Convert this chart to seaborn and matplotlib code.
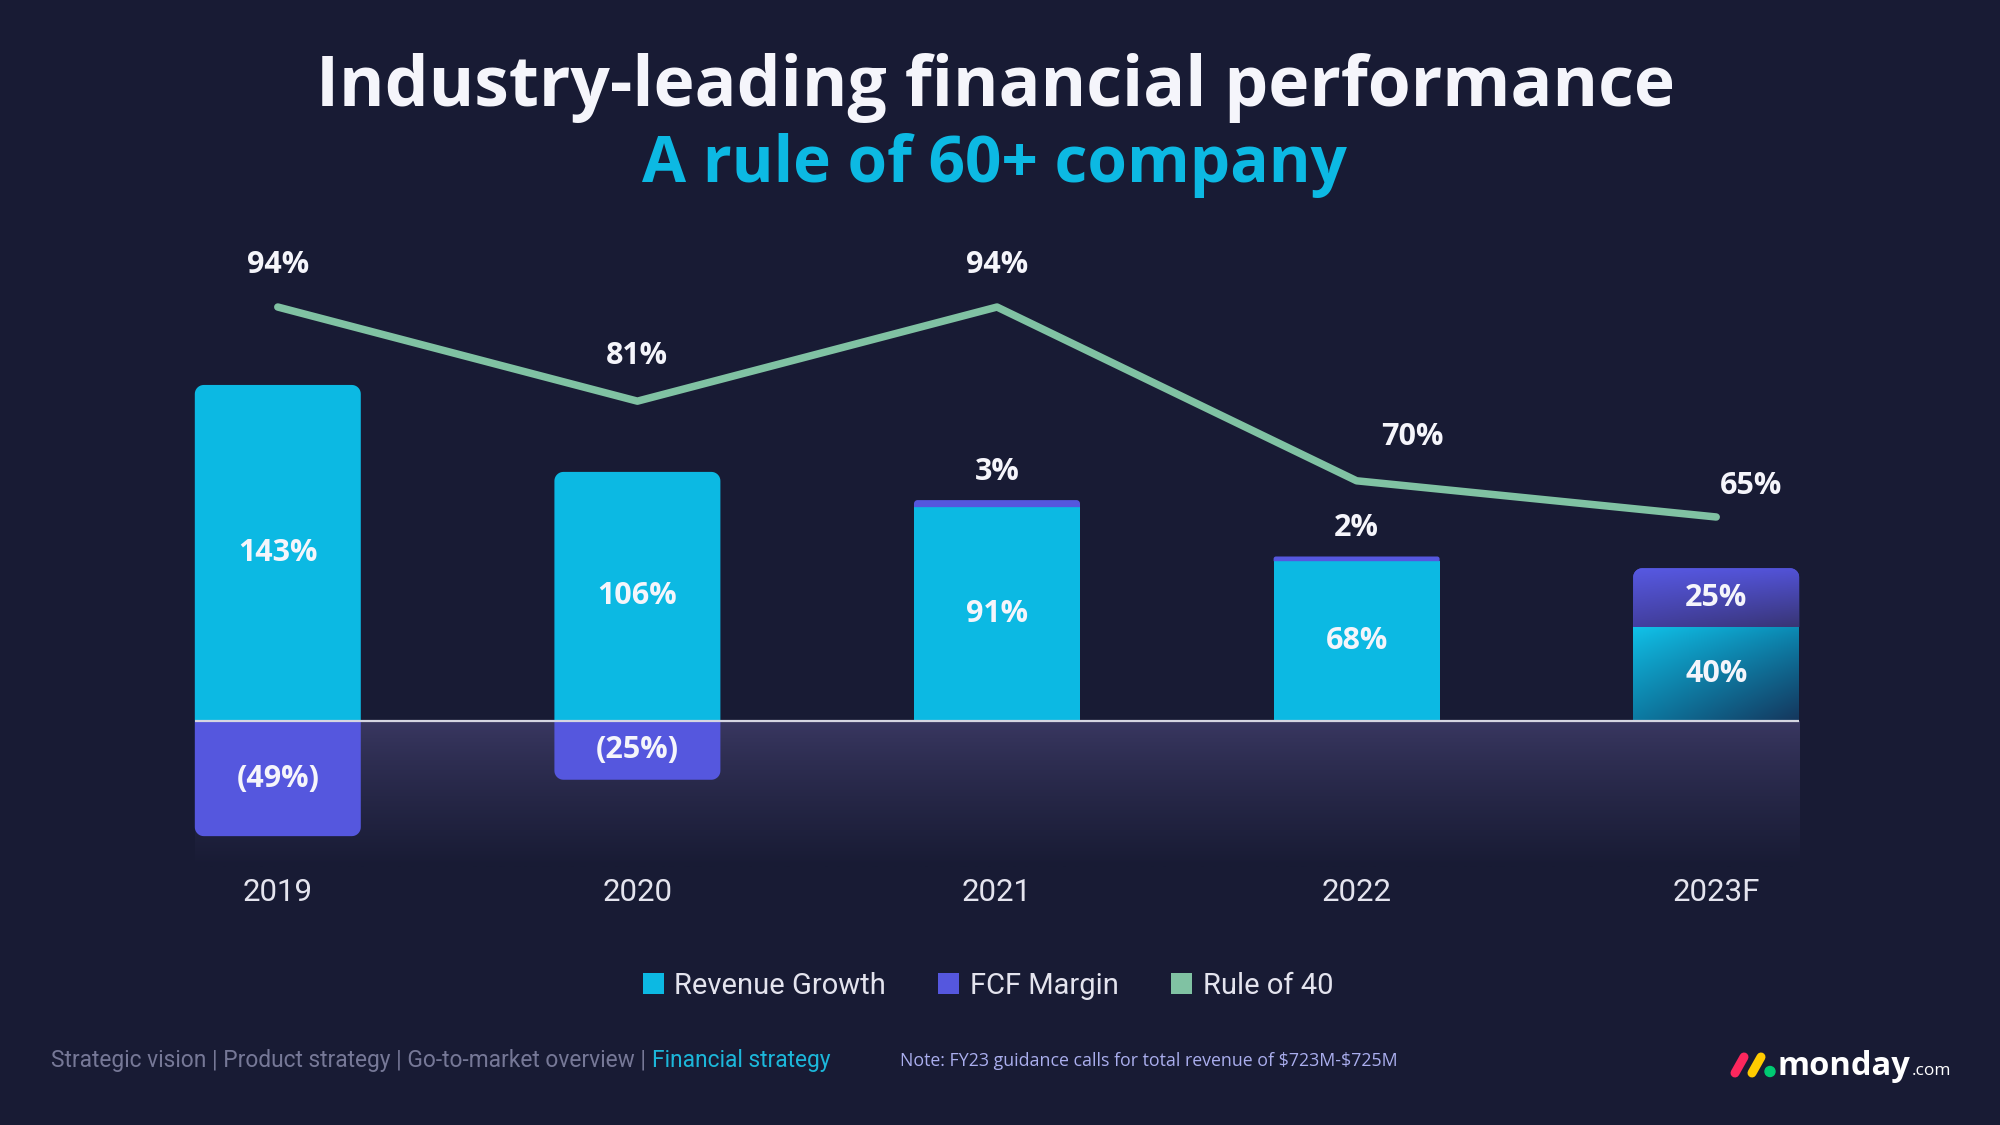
import numpy as np
import pandas as pd
import matplotlib
matplotlib.use("Agg")
import matplotlib.pyplot as plt
import seaborn as sns
from matplotlib.patches import Polygon, Patch, Circle
from matplotlib.lines import Line2D
from matplotlib.colors import to_rgb

# ---------------- data ----------------
years = ["2019", "2020", "2021", "2022", "2023F"]
revenue_growth = [143, 106, 91, 68, 40]
fcf_margin = [-49, -25, 3, 2, 25]
rule_of_40 = [94, 81, 94, 70, 65]

title = "Industry-leading financial performance"
subtitle = "A rule of 60+ company"
legend_labels = ["Revenue Growth", "FCF Margin", "Rule of 40"]
footer_gray = "Strategic vision | Product strategy | Go-to-market overview | "
footer_cyan = "Financial strategy"
note = "Note: FY23 guidance calls for total revenue of $723M-$725M"

# ---------------- style ----------------
BG = "#181b34"
CYAN = "#0cb9e3"
PURPLE = "#5557de"
GREEN = "#80c2a3"
WHITE = "#f5f5fb"
TICK = "#e4e4ee"

sns.set_theme(style="white")
plt.rcParams["font.family"] = ["Open Sans", "DejaVu Sans"]

W, H = 2000, 1125
fig = plt.figure(figsize=(20, 11.25), dpi=100, facecolor=BG)


def fx(px):
    return px / W


def fy(py):
    return 1 - py / H


AX_L, AX_R, AX_T, AX_B = 98, 1896, 250, 870
ZERO_PX, PX_PER = 721, 2.35
Y0 = -(AX_B - ZERO_PX) / PX_PER
Y1 = (ZERO_PX - AX_T) / PX_PER
BAR_W = 0.4616

ax = fig.add_axes([fx(AX_L), fy(AX_B), fx(AX_R - AX_L), (AX_B - AX_T) / H])
ax.set_facecolor("none")

n = len(years)
xpos = np.arange(n)
rev = np.array(revenue_growth)
fcf = np.array(fcf_margin)

# bars
df = pd.DataFrame({"year": years, "rev": revenue_growth})
sns.barplot(data=df, x="year", y="rev", color=CYAN, saturation=1, width=BAR_W,
            ax=ax, zorder=3, linewidth=0)
rev_rects = list(ax.patches)
bottoms = np.where(fcf > 0, rev, 0)
fcf_rects = list(ax.bar(xpos, fcf, bottom=bottoms, width=BAR_W, color=PURPLE,
                        zorder=3, linewidth=0))

ax.set_xlim(-0.5, n - 0.5)
ax.set_ylim(Y0, Y1)

xu = n / (AX_R - AX_L)
yu = (Y1 - Y0) / (AX_B - AX_T)
RPX = 9


def round_outer(rect, top_round):
    """Replace a bar rectangle by the same shape with rounded outer corners."""
    x, w = rect.get_x(), rect.get_width()
    ya, yb = rect.get_y(), rect.get_y() + rect.get_height()
    y0, y1 = min(ya, yb), max(ya, yb)
    rpx = min(RPX, (y1 - y0) / yu / 2)
    rx, ry = rpx * xu, rpx * yu
    k = np.linspace(0, np.pi / 2, 10)
    if top_round:
        left = [(x + rx - rx * np.cos(a), y1 - ry + ry * np.sin(a)) for a in k]
        right = [(x + w - rx + rx * np.sin(a), y1 - ry + ry * np.cos(a)) for a in k]
        verts = [(x, y0)] + left + right + [(x + w, y0)]
    else:
        right = [(x + w - rx + rx * np.cos(a), y0 + ry - ry * np.sin(a)) for a in k]
        left = [(x + rx - rx * np.sin(a), y0 + ry - ry * np.cos(a)) for a in k]
        verts = [(x, y1), (x + w, y1)] + right + left
    poly = Polygon(verts, closed=True, fc=rect.get_facecolor(), ec="none",
                   zorder=rect.get_zorder())
    ax.add_patch(poly)
    rect.set_visible(False)
    return poly


outer_shapes = {}
for i in range(n):
    if fcf[i] > 0:
        outer_shapes[("f", i)] = round_outer(fcf_rects[i], True)
    else:
        outer_shapes[("r", i)] = round_outer(rev_rects[i], True)
        outer_shapes[("f", i)] = round_outer(fcf_rects[i], False)


def grad_img(tl, tr, bl, br, ny=80, nx=80, gamma=1.0):
    u = np.linspace(0, 1, nx)[None, :, None]
    v = np.linspace(0, 1, ny)[:, None, None] ** gamma
    tl, tr, bl, br = [np.array(to_rgb(c))[None, None, :] for c in (tl, tr, bl, br)]
    top = tl * (1 - u) + tr * u
    bot = bl * (1 - u) + br * u
    return top * (1 - v) + bot * v


# gradient on the forecast bar
last = n - 1
cr = rev_rects[last]
img = grad_img("#11c3ea", "#0b8cb6", "#0c7aa2", "#15375d", gamma=0.85)
im = ax.imshow(img, extent=[cr.get_x(), cr.get_x() + cr.get_width(), 0, rev[last]],
               aspect="auto", zorder=3.5, interpolation="bicubic")
im.set_clip_path(cr)
pr = outer_shapes[("f", last)]
img2 = grad_img("#5759e2", "#5252d6", "#433fa0", "#383574")
im2 = ax.imshow(img2, extent=[cr.get_x(), cr.get_x() + cr.get_width(),
                              rev[last], rev[last] + fcf[last]],
                aspect="auto", zorder=3.5, interpolation="bicubic")
im2.set_clip_path(pr)

# shaded band below the zero line
band_h = 62
t = np.linspace(0, 1, 100)[:, None, None]
c_top = np.array(to_rgb("#3a3862"))[None, None, :]
c_bot = np.array(to_rgb(BG))[None, None, :]
wgt = np.clip(t, 0, 1) ** 0.8
band = c_top * (1 - wgt) + c_bot * wgt
band = np.repeat(band, 2, axis=1)
ax.imshow(band, extent=[-BAR_W / 2, last + BAR_W / 2, -band_h, 0], aspect="auto",
          zorder=1, interpolation="bilinear")

# zero line
ax.plot([-BAR_W / 2, last + BAR_W / 2], [0, 0], color="#d6d6e2", lw=1.6, zorder=4,
        solid_capstyle="butt")

ax.set_xlim(-0.5, n - 0.5)
ax.set_ylim(Y0, Y1)

# bar labels
lab_kw = dict(ha="center", va="center", color=WHITE, fontsize=22, fontweight="bold",
              zorder=6)
for i in range(n):
    ax.text(i, rev[i] / 2, f"{rev[i]}%", **lab_kw)
    if fcf[i] < 0:
        ax.text(i, fcf[i] / 2, f"({-fcf[i]}%)", **lab_kw)
    elif fcf[i] >= 10:
        ax.text(i, rev[i] + fcf[i] / 2, f"{fcf[i]}%", **lab_kw)
    else:
        ax.annotate(f"{fcf[i]}%", (i, rev[i] + fcf[i]), xytext=(0, 28 * 0.72),
                    textcoords="offset points", **lab_kw)

# rule of 40 line on its own scale
ax2 = ax.twinx()
sns.lineplot(x=xpos, y=rule_of_40, ax=ax2, color=GREEN, lw=5.4, zorder=5,
             solid_capstyle="round", solid_joinstyle="round")
ax2.set_ylim(80.8 - (AX_B - 402.6) / 7.24, 80.8 + (402.6 - AX_T) / 7.24)
ax2.set_xlim(-0.5, n - 0.5)
line_offsets_px = [(0, 42), (0, 45), (0, 42), (56, 44), (35, 31)]
for i in range(n):
    dx, dy = line_offsets_px[i]
    ax2.annotate(f"{rule_of_40[i]}%", (i, rule_of_40[i]),
                 xytext=(dx * 0.72, dy * 0.72), textcoords="offset points", **lab_kw)

for a in (ax, ax2):
    for s in a.spines.values():
        s.set_visible(False)
    a.set_yticks([])
    a.set_ylabel("")
    a.set_xlabel("")
    a.grid(False)

ax.set_xticks(xpos)
ax.set_xticklabels(years, family=["Roboto", "DejaVu Sans"])
ax.tick_params(axis="x", length=0, pad=6, labelsize=22.5, labelcolor=TICK)

# titles
fig.text(0.4975, fy(106), title, ha="center", va="baseline", fontsize=50,
         fontweight="bold", color=WHITE)
fig.text(0.4975, fy(182), subtitle, ha="center", va="baseline", fontsize=46,
         fontweight="bold", color=CYAN)

# legend
handles = [Patch(fc=c, ec="none") for c in (CYAN, PURPLE, GREEN)]
fig.legend(handles, legend_labels, loc="center", bbox_to_anchor=(0.494, fy(986)),
           ncol=3, frameon=False, handlelength=0.72, handleheight=0.72,
           handletextpad=0.36, columnspacing=1.8,
           prop={"family": ["Roboto", "DejaVu Sans"], "size": 21}, labelcolor=TICK)

# footer
renderer = fig.canvas.get_renderer()
t1 = fig.text(fx(51), fy(1061), footer_gray, ha="left", va="center", fontsize=16.4,
              color="#767897", family=["Roboto", "DejaVu Sans"])
bb = t1.get_window_extent(renderer=renderer)
fig.text(bb.x1 / W, fy(1061), footer_cyan, ha="left", va="center", fontsize=16.4,
         color="#1cb7da", family=["Roboto", "DejaVu Sans"])
fig.text(fx(900), fy(1061), note, ha="left", va="center", fontsize=12.8,
         color="#aaaeee", parse_math=False)

# logo
deco = fig.add_axes([0, 0, 1, 1], zorder=10)
deco.set_xlim(0, W)
deco.set_ylim(H, 0)
deco.axis("off")
deco.patch.set_visible(False)
deco.add_line(Line2D([1735, 1744], [1073, 1057], lw=6.5, color="#fb275d",
                     solid_capstyle="round"))
deco.add_line(Line2D([1752, 1761], [1073, 1057], lw=6.5, color="#ffcb00",
                     solid_capstyle="round"))
deco.add_patch(Circle((1770, 1071.5), 5, color="#00ca72"))
tm = deco.text(1778, 1075, "monday", ha="left", va="baseline", fontsize=23.5,
               fontweight="bold", color="white")
bbm = tm.get_window_extent(renderer=renderer)
fig.text((bbm.x1 + 1) / W, fy(1075), ".com", ha="left", va="baseline", fontsize=12.5,
         color="white")

fig.savefig("out.png", dpi=100, facecolor=BG)
